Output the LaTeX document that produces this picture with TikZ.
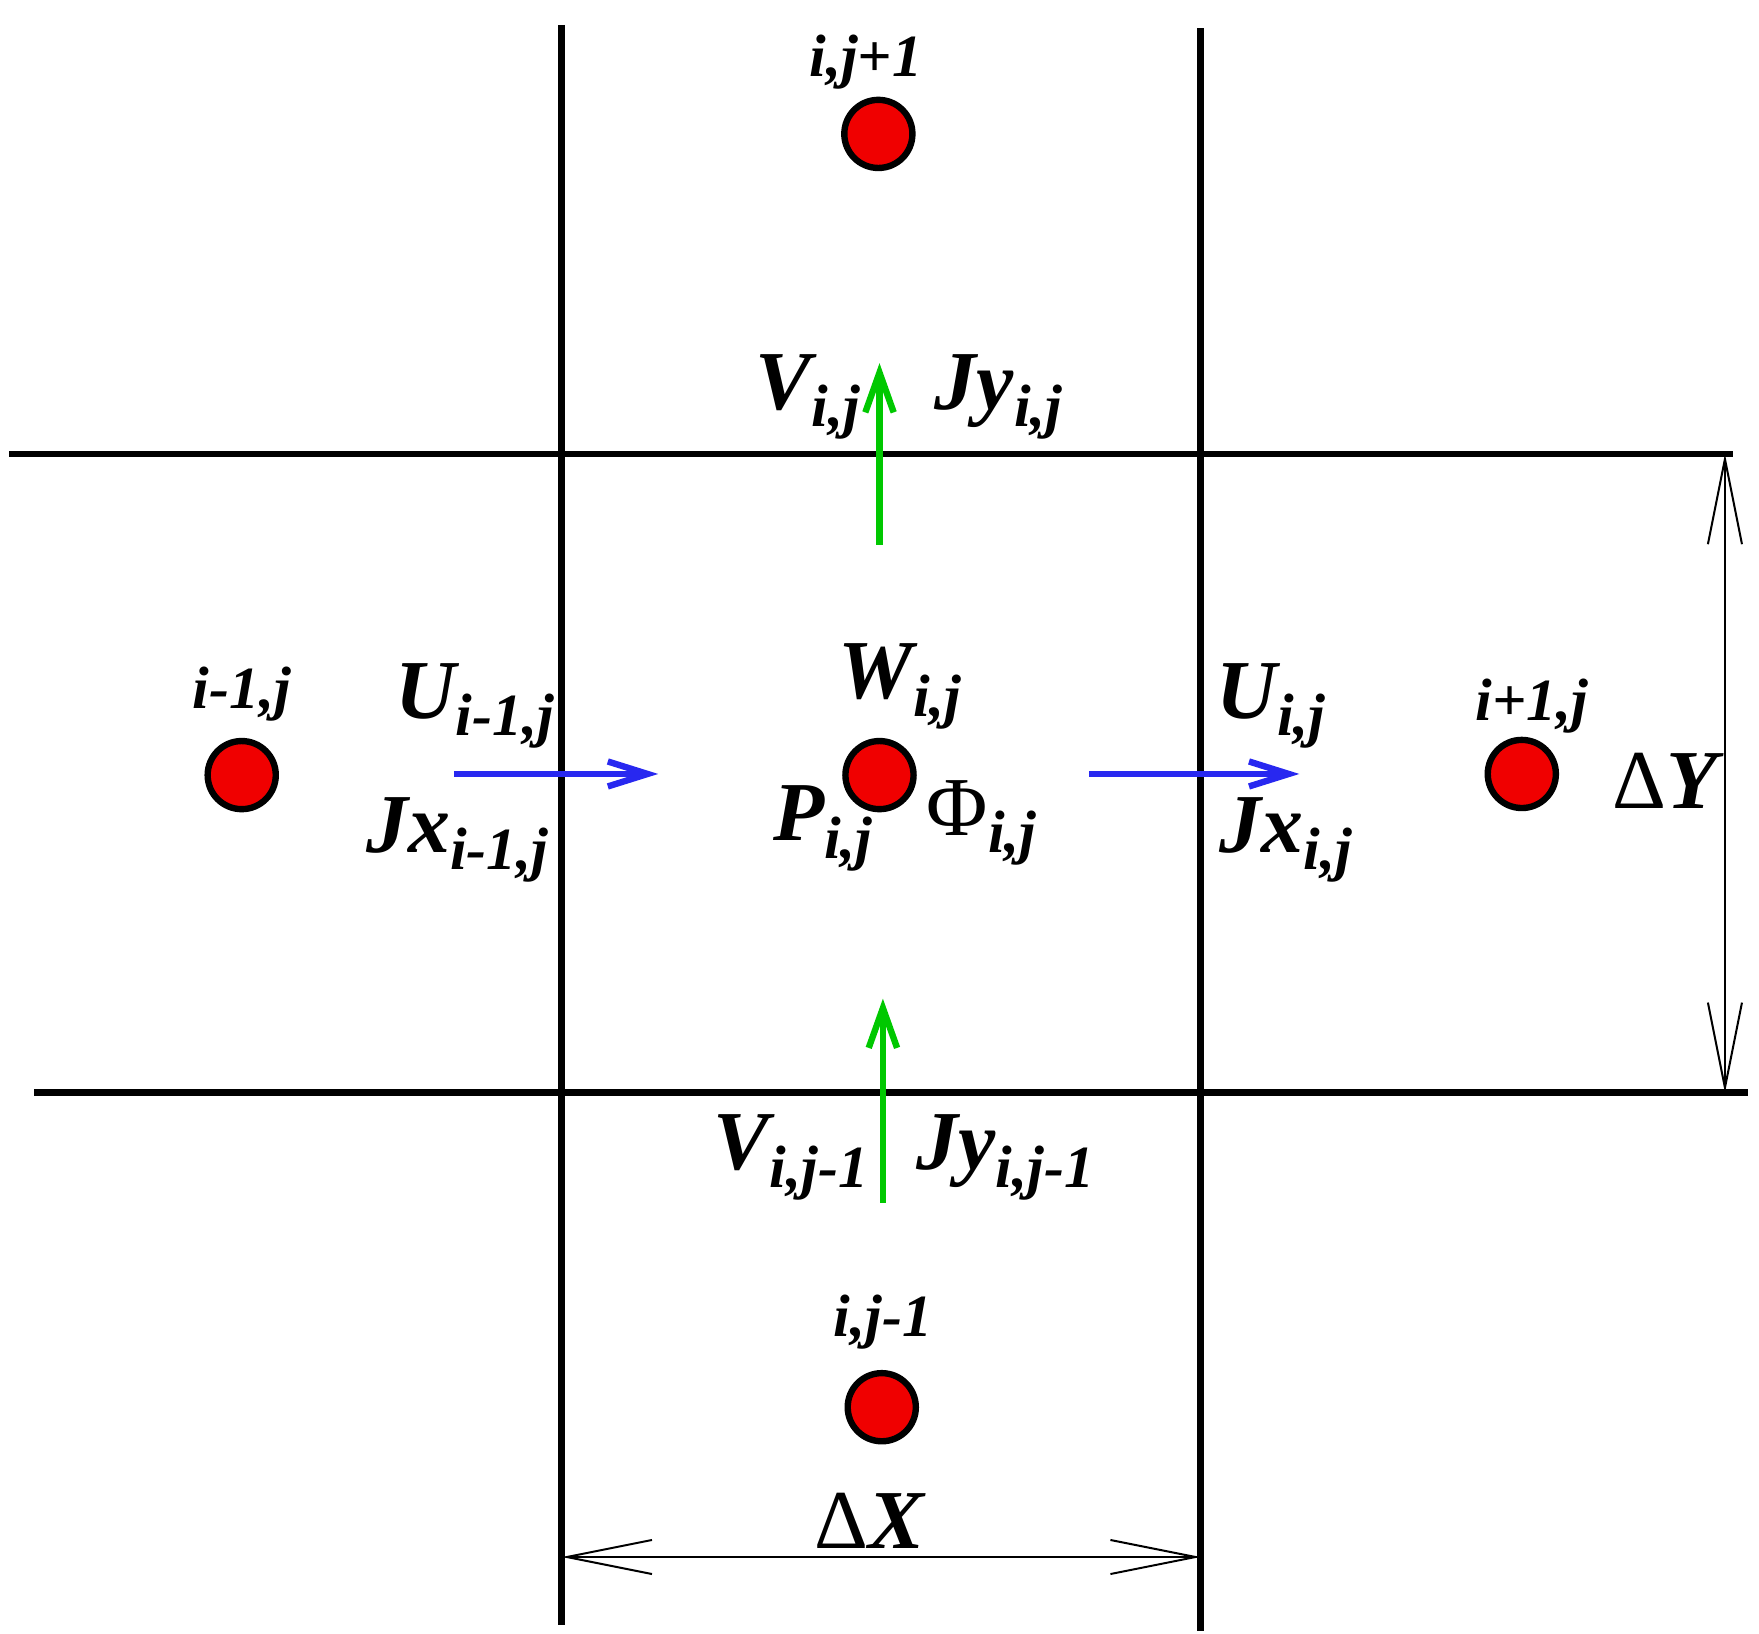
\documentclass[tikz,border=0pt]{standalone}
\usepackage{fontspec}
\setmainfont{Liberation Serif}
\usetikzlibrary{arrows.meta}
\definecolor{ptred}{RGB}{240,0,0}
\definecolor{fgreen}{RGB}{0,200,0}
\definecolor{fblue}{RGB}{40,40,240}
\tikzset{
 grid/.style={line width=1.7pt},
 pt/.style={circle,draw=black,line width=1.6pt,fill=ptred,minimum size=0.6cm,inner sep=0pt},
 lab/.style={font=\fontsize{15}{15}\selectfont\bfseries\itshape,inner sep=0pt},
 big/.style={font=\fontsize{21}{21}\selectfont\bfseries\itshape,inner sep=0pt},
 vflux/.style={line width=1.6pt,fgreen,-{Straight Barb[length=0.35cm,width=0.25cm,line width=1.6pt]}},
 hflux/.style={line width=1.6pt,fblue,-{Straight Barb[length=0.35cm,width=0.22cm,line width=1.6pt]}},
 dim/.style={line width=0.5pt,{Straight Barb[length=0.75cm,width=0.3cm]}-{Straight Barb[length=0.75cm,width=0.3cm]}}
}
\newcommand{\sbs}[1]{\raisebox{-0.45ex}{\fontsize{15}{15}\selectfont #1}}
\begin{document}
\begin{tikzpicture}[x=0.01cm,y=-0.01cm]
\useasboundingbox (0,0) rectangle (1550,1439);
\coordinate (v1t) at (495,22); \coordinate (v1b) at (495,1432);
\coordinate (v2t) at (1058,25); \coordinate (v2b) at (1058,1437);
\coordinate (h1l) at (8,400); \coordinate (h1r) at (1527,400);
\coordinate (h2l) at (30,963); \coordinate (h2r) at (1540,963);
\draw[grid] (v1t)--(v1b); \draw[grid] (v2t)--(v2b);
\draw[grid] (h1l)--(h1r); \draw[grid] (h2l)--(h2r);
\node[pt] (n) at (774,118) {};
\node[pt] (w) at (213,683) {};
\node[pt] (c) at (775,683) {};
\node[pt] (e) at (1341,682) {};
\node[pt] (s) at (777,1240) {};
\node[lab] (ln) at (763,55) {i,j+1};
\node[lab] (lw) at (213,612) {i-1,j};
\node[lab] (le) at (1350,622) {i+1,j};
\node[lab] (ls) at (778,1165) {i,j-1};
\coordinate (g1a) at (775,480); \coordinate (g1b) at (775,320);
\coordinate (g2a) at (778,1060); \coordinate (g2b) at (778,880);
\coordinate (b1a) at (400,682); \coordinate (b1b) at (580,682);
\coordinate (b2a) at (960,682); \coordinate (b2b) at (1145,682);
\draw[vflux] (g1a)--(g1b); \draw[vflux] (g2a)--(g2b);
\draw[hflux] (b1a)--(b1b); \draw[hflux] (b2a)--(b2b);
\node[big] (tv) at (712,350) {V\sbs{i,j}};
\node[big] (tjy) at (880,350) {Jy\sbs{i,j}};
\node[big] (tu1) at (418,622) {U\sbs{i-1,j}};
\node[big] (tjx1) at (403,740) {Jx\sbs{i-1,j}};
\node[big] (tw) at (793,605) {W\sbs{i,j}};
\node[big] (tp) at (725,730) {P\sbs{i,j}};
\node[big] (tphi) at (865,725) {\upshape\mdseries Φ\bfseries\itshape\sbs{i,j}};
\node[big] (tu) at (1120,622) {U\sbs{i,j}};
\node[big] (tjx) at (1133,740) {Jx\sbs{i,j}};
\node[big] (tv2) at (697,1020) {V\sbs{i,j-1}};
\node[big] (tjy2) at (886,1020) {Jy\sbs{i,j-1}};
\node[big] (dy) at (1467,688) {\upshape\mdseries Δ\bfseries\itshape Y};
\node[big] (dx) at (766,1340) {\upshape\mdseries Δ\bfseries\itshape X};
\coordinate (dyt) at (1520,400); \coordinate (dyb) at (1520,963);
\coordinate (dxl) at (495,1372); \coordinate (dxr) at (1058,1372);
\draw[dim] (dyt)--(dyb); \draw[dim] (dxl)--(dxr);
\end{tikzpicture}
\end{document}
